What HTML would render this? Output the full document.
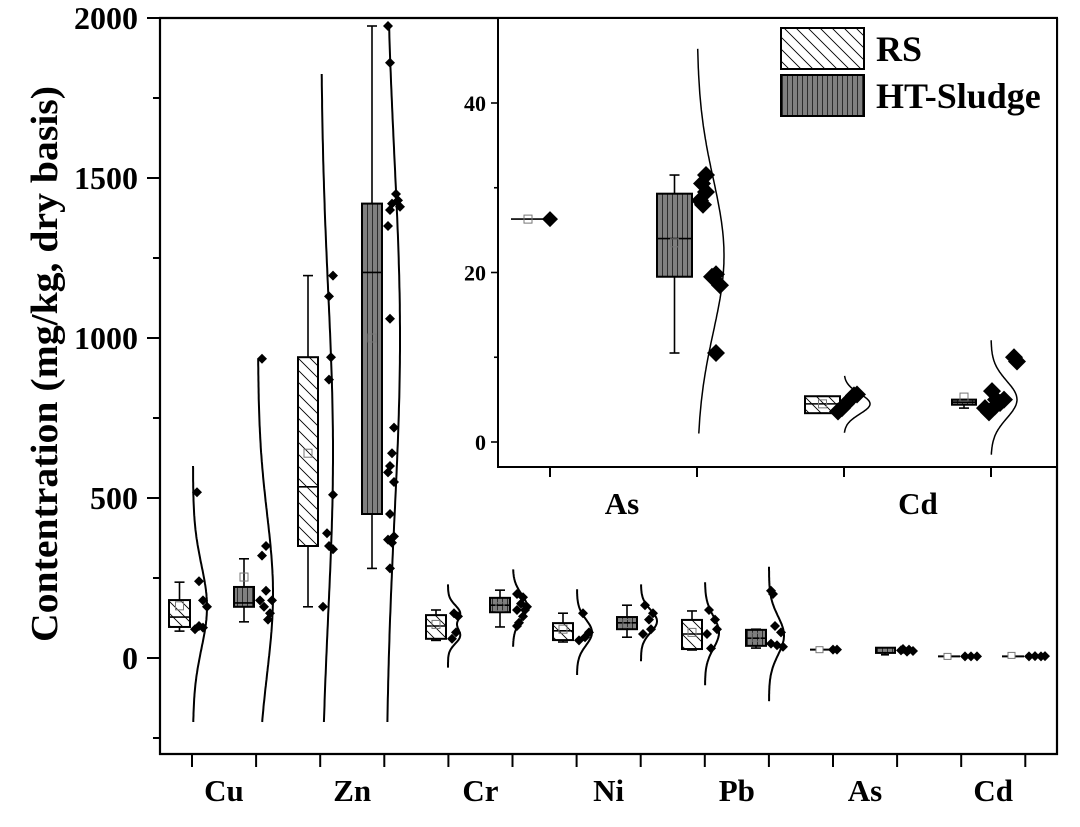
<!DOCTYPE html>
<html><head><meta charset="utf-8"><style>
html,body{margin:0;padding:0;background:#fff}
svg{display:block}
text{font-family:"Liberation Serif",serif;font-weight:bold;fill:#000}
</style></head><body>
<svg id="s" width="1080" height="827" viewBox="0 0 1080 827" xmlns="http://www.w3.org/2000/svg">
<defs>
<pattern id="diag" patternUnits="userSpaceOnUse" width="12" height="12">
<path d="M-3,-3 L15,15 M-3,9 L3,15 M9,-3 L15,3" stroke="#000" stroke-width="0.9"/>
</pattern>
<pattern id="vert" patternUnits="userSpaceOnUse" width="5" height="10">
<rect width="5" height="10" fill="#808080"/>
<path d="M2.5,0 L2.5,10" stroke="#222" stroke-width="0.9"/>
</pattern>
</defs>
<g id="g"></g>
</svg>
<script>
var out=[];
function ym(v){return 658-0.32*v;}
function yi(v){return 442-8.475*v;}
function line(x1,y1,x2,y2,w){out.push('<line x1="'+x1+'" y1="'+y1+'" x2="'+x2+'" y2="'+y2+'" stroke="#000" stroke-width="'+(w||2)+'"/>');}
function txt(x,y,s,size,anchor){out.push('<text x="'+x+'" y="'+y+'" font-size="'+size+'" text-anchor="'+(anchor||'middle')+'">'+s+'</text>');}
function dia(x,y,r){out.push('<path d="M'+x+','+(y-r)+' L'+(x+r)+','+y+' L'+x+','+(y+r)+' L'+(x-r)+','+y+'Z" fill="#000"/>');}
function box(x1,x2,q1,q3,med,wlo,whi,mean,type,ys){
  var cx=(x1+x2)/2, cap=5;
  line(cx,ys(whi),cx,ys(q3),1.6); line(cx,ys(wlo),cx,ys(q1),1.6);
  line(cx-cap,ys(whi),cx+cap,ys(whi),1.6); line(cx-cap,ys(wlo),cx+cap,ys(wlo),1.6);
  var t=ys(q3),b=ys(q1);
  out.push('<rect x="'+x1+'" y="'+t+'" width="'+(x2-x1)+'" height="'+Math.max(b-t,1)+'" fill="url(#'+(type?'vert':'diag')+')" stroke="#000" stroke-width="2"/>');
  line(x1,ys(med),x2,ys(med),1.6);
  var m=ys(mean);
  out.push('<rect x="'+(cx-4)+'" y="'+(m-4)+'" width="8" height="8" fill="none" stroke="#777" stroke-width="1"/>');
}
function curve(T,vmin,vmax,comps,ys,w){
  var d='',n=120;
  for(var i=0;i<=n;i++){
    var v=vmin+(vmax-vmin)*i/n, x=T;
    comps.forEach(function(c){x+=c[2]*Math.exp(-0.5*Math.pow((v-c[0])/c[1],2));});
    d+=(i?'L':'M')+x.toFixed(1)+','+ys(v).toFixed(1);
  }
  out.push('<path d="'+d+'" fill="none" stroke="#000" stroke-width="'+(w||2)+'"/>');
}
var ticks=[];for(var k=0;k<14;k++)ticks.push(192+64.1*k);
curve(193,-200,600,[[160,130,14]],ym);
curve(258,-200,935,[[200,250,15]],ym);
curve(321,-200,1825,[[640,500,12]],ym);
curve(386,-200,1975,[[1000,560,14]],ym);
curve(448,-30,230,[[140,25,12],[70,25,12]],ym);
curve(513,35,277,[[160,40,14]],ym);
curve(577,-53,215,[[80,40,15]],ym);
curve(641,-10,230,[[115,35,16]],ym);
curve(705,-85,237,[[80,50,14]],ym);
curve(769,-135,285,[[70,60,15]],ym);
box(169,190,97,181,128,84,237,163,0,ym);
box(234,254,160,222,172,113,310,253,1,ym);
box(298,318,350,940,535,160,1195,640,0,ym);
box(362,382,450,1420,1205,280,1975,1000,1,ym);
box(426,446,60,134,100,55,150,105,0,ym);
box(490,510,143,188,165,97,212,160,1,ym);
box(553,573,56,109,85,50,140,90,0,ym);
box(617,637,90,128,110,65,165,108,1,ym);
box(682,702,28,119,75,25,147,80,0,ym);
box(746,766,38,88,62,31,90,65,1,ym);
var P=[
 [193,[[4,518],[6,240],[10,180],[14,160],[6,100],[10,95],[2,90]]],
 [258,[[4,935],[8,350],[4,320],[8,210],[14,180],[6,160],[12,140],[10,120],[2,180]]],
 [321,[[2,160],[8,1130],[12,1195],[10,940],[8,870],[12,510],[6,390],[8,350],[12,340]]],
 [386,[[2,1975],[4,1860],[10,1450],[6,1420],[14,1410],[4,1400],[2,1350],[4,1060],[8,720],[6,640],[4,600],[2,580],[8,550],[4,450],[8,380],[2,370],[6,360],[4,280],[12,1430]]],
 [448,[[6,140],[10,130],[8,80],[4,60]]],
 [513,[[4,200],[10,190],[8,170],[14,160],[4,150],[10,130],[6,110],[4,100],[12,150]]],
 [577,[[6,140],[12,80],[8,65],[2,55]]],
 [641,[[4,165],[12,140],[8,120],[10,90],[2,75]]],
 [705,[[4,150],[10,120],[12,90],[2,75],[6,30]]],
 [769,[[2,210],[4,200],[6,100],[12,80],[2,45],[8,40],[14,35]]],
 [833,[[0,26],[4,26]]],
 [897,[[4,24],[10,20],[16,22],[12,26],[6,28]]],
 [961,[[4,5],[10,5],[16,5]]],
 [1025,[[4,5],[10,6],[16,5],[20,6]]]
];
P.forEach(function(g){g[1].forEach(function(p){dia(g[0]+p[0],ym(p[1]),5);});});
line(810,ym(26),833,ym(26),2);out.push('<rect x="816" y="'+(ym(26)-3)+'" width="7" height="6" fill="#fff" stroke="#777"/>');
out.push('<rect x="876" y="'+(ym(29)-1)+'" width="19" height="'+(0.32*10+2)+'" fill="url(#vert)" stroke="#000" stroke-width="2"/>');line(885,ym(19),885,ym(10),1.6);line(881,ym(10),889,ym(10),1.6);
line(938,ym(5),960,ym(5),2);out.push('<rect x="944" y="'+(ym(5)-3)+'" width="7" height="6" fill="#fff" stroke="#777"/>');
line(1002,ym(5),1024,ym(5),2);out.push('<rect x="1008" y="'+(ym(5)-4)+'" width="7" height="6" fill="#fff" stroke="#777"/>');
line(160,18,160,755,2.2);line(159,754,1058,754,2.2);line(1057,18,1057,755,2.2);line(159,18,1058,18,2.2);
[0,500,1000,1500,2000].forEach(function(v){line(147,ym(v),160,ym(v),2);txt(138,ym(v)+11,v,32,'end');});
[-250,250,750,1250,1750].forEach(function(v){line(153,ym(v),160,ym(v),2);});
ticks.forEach(function(x){line(x,754,x,767,2);});
var labs=['Cu','Zn','Cr','Ni','Pb','As','Cd'];
labs.forEach(function(l,i){txt(ticks[2*i]+32,801,l,31);});
out.push('<text x="364" y="57" font-size="38" text-anchor="middle" textLength="556" lengthAdjust="spacingAndGlyphs" transform="rotate(-90 364 57) translate(0,0)" style="transform-box:view-box">Contentration (mg/kg, dry basis)</text>'.replace('x="364" y="57"','x="-364" y="57"').replace(' transform="rotate(-90 364 57) translate(0,0)" style="transform-box:view-box"',' transform="rotate(-90)"'));
out.push('<rect x="498" y="19" width="558" height="448" fill="#fff"/>');
curve(697,1,46.4,[[22,9,27]],yi,1.5);
curve(844,1.1,7.8,[[4.5,1.2,26]],yi,1.5);
curve(991,-1.5,12,[[5,2.2,26]],yi,1.5);
line(511,yi(26.3),549,yi(26.3),1.6);out.push('<rect x="524" y="'+(yi(26.3)-4)+'" width="8" height="8" fill="none" stroke="#777"/>');
dia(550,yi(26.3),8);
box(657,692,19.5,29.3,24,10.5,31.5,23.5,1,yi);
[[9,31.5],[5,30.5],[9,29.5],[3,28.5],[6,28],[19,19.8],[15,19.5],[23,18.5],[19,10.5]].forEach(function(p){dia(697+p[0],yi(p[1]),9);});
box(805,840,3.4,5.4,4.5,3.4,5.4,4.5,0,yi);
[[-6,3.6],[-2,4],[2,4.5],[6,5],[10,5.5],[13,5.6]].forEach(function(p){dia(844+p[0],yi(p[1]),9);});
box(952,976,4.4,5.0,4.7,4.0,5.0,5.3,1,yi);
[[23,10],[26,9.5],[1,6],[-6,4],[-2,3.5],[5,5],[9,4.6],[13,5],[4,4.2]].forEach(function(p){dia(991+p[0],yi(p[1]),9);});
line(498,18,498,468,2);line(497,467,1058,467,2);
[0,20,40].forEach(function(v){line(491,yi(v),498,yi(v),1.6);txt(486,yi(v)+8,v,22,'end');});
[10,30].forEach(function(v){line(494,yi(v),498,yi(v),1.6);});
[550,697,844,991].forEach(function(x){line(x,467,x,477,2);});
txt(622,514,'As',31);txt(918,514,'Cd',31);
out.push('<rect x="781" y="28" width="83" height="41" fill="url(#diag)" stroke="#000" stroke-width="2"/>');
out.push('<rect x="781" y="75" width="83" height="41" fill="url(#vert)" stroke="#000" stroke-width="2"/>');
txt(876,61,'RS',36,'start');txt(876,108,'HT-Sludge',36,'start');
document.getElementById('g').innerHTML=out.join('');
</script>
</body></html>
